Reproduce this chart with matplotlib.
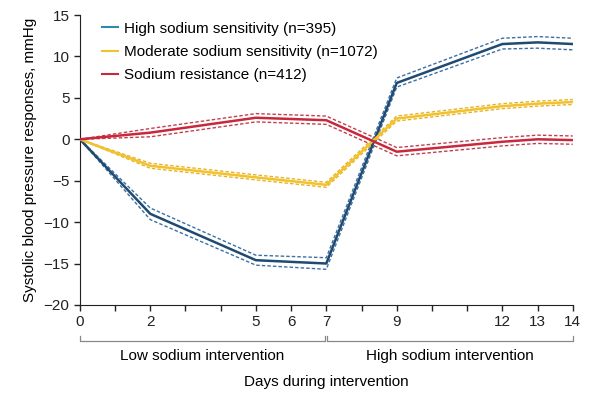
import numpy as np
import matplotlib.pyplot as plt
from matplotlib.transforms import blended_transform_factory

plt.rcParams['font.family'] = ['Liberation Sans', 'DejaVu Sans']

days = [0, 2, 5, 7, 9, 12, 13, 14]

# mean responses and dashed bands, mmHg
high_mean = [0, -9.0, -14.6, -15.0, 6.8, 11.5, 11.7, 11.5]
high_hi = [0, -8.3, -14.0, -14.3, 7.4, 12.2, 12.4, 12.2]
high_lo = [0, -9.7, -15.2, -15.7, 6.3, 10.9, 11.0, 10.8]

mod_mean = [0, -3.2, -4.6, -5.5, 2.5, 4.0, 4.3, 4.5]
mod_hi = [0, -2.9, -4.3, -5.2, 2.8, 4.3, 4.6, 4.8]
mod_lo = [0, -3.5, -4.9, -5.8, 2.2, 3.7, 4.0, 4.2]

res_mean = [0, 0.8, 2.6, 2.3, -1.5, -0.3, 0.0, -0.1]
res_hi = [0, 1.3, 3.1, 2.8, -1.0, 0.2, 0.5, 0.4]
res_lo = [0, 0.3, 2.1, 1.8, -2.0, -0.8, -0.5, -0.6]

labels = ['High sodium sensitivity (n=395)',
          'Moderate sodium sensitivity (n=1072)',
          'Sodium resistance (n=412)']
tick_days = [0, 2, 5, 6, 7, 9, 12, 13, 14]

fig = plt.figure(figsize=(5.96, 3.96), dpi=100)
ax = fig.add_axes([0.134, 0.230, 0.827, 0.732])

series = [
    (high_mean, high_hi, high_lo, '#1f4a72', '#3d6fa3', '#2e8aa8'),
    (mod_mean, mod_hi, mod_lo, '#f2c12e', '#e6b422', '#f2c12e'),
    (res_mean, res_hi, res_lo, '#c8283c', '#c04050', '#c8283c'),
]
for (m, hi, lo, c, cd, cl), lab in zip(series, labels):
    ax.plot(days, m, color=c, lw=1.8, zorder=3)
    ax.plot(days, hi, color=cd, lw=1.0, ls=(0, (2.5, 1.5)), zorder=2)
    ax.plot(days, lo, color=cd, lw=1.0, ls=(0, (2.5, 1.5)), zorder=2)
    ax.plot([], [], color=cl, lw=1.5, label=lab)

ax.legend(loc='upper left', bbox_to_anchor=(0.018, 1.025), frameon=False,
          handlelength=1.0, handletextpad=0.4, fontsize=11, labelspacing=0.62)

ax.set_xlim(0, 14)
ax.set_ylim(-20, 15)
ax.set_yticks(np.arange(-20, 16, 5))
ax.set_xticks(range(15))
ax.set_xticklabels([str(d) if d in tick_days else '' for d in range(15)])
ax.tick_params(labelsize=11, direction='out', length=4, width=1, colors='#222222')
ax.spines[['top', 'right']].set_visible(False)
ax.spines['left'].set_color('#222222')
ax.spines['bottom'].set_color('#222222')
ax.set_ylabel('Systolic blood pressure responses, mmHg', fontsize=11, labelpad=5)

# brackets below the axis
tr = blended_transform_factory(ax.transData, ax.transAxes)
yb, yt = -0.125, -0.108
for x0, x1, txt in [(0, 6.97, 'Low sodium intervention'),
                    (7.03, 14, 'High sodium intervention')]:
    ax.plot([x0, x0, x1, x1], [yt, yb, yb, yt], color='#888888', lw=0.9,
            transform=tr, clip_on=False)
    ax.text((x0 + x1) / 2, -0.175, txt, transform=tr, ha='center', va='center',
            fontsize=11)
ax.text(7, -0.265, 'Days during intervention', transform=tr, ha='center',
        va='center', fontsize=11)

fig.savefig('out.png', dpi=100)
